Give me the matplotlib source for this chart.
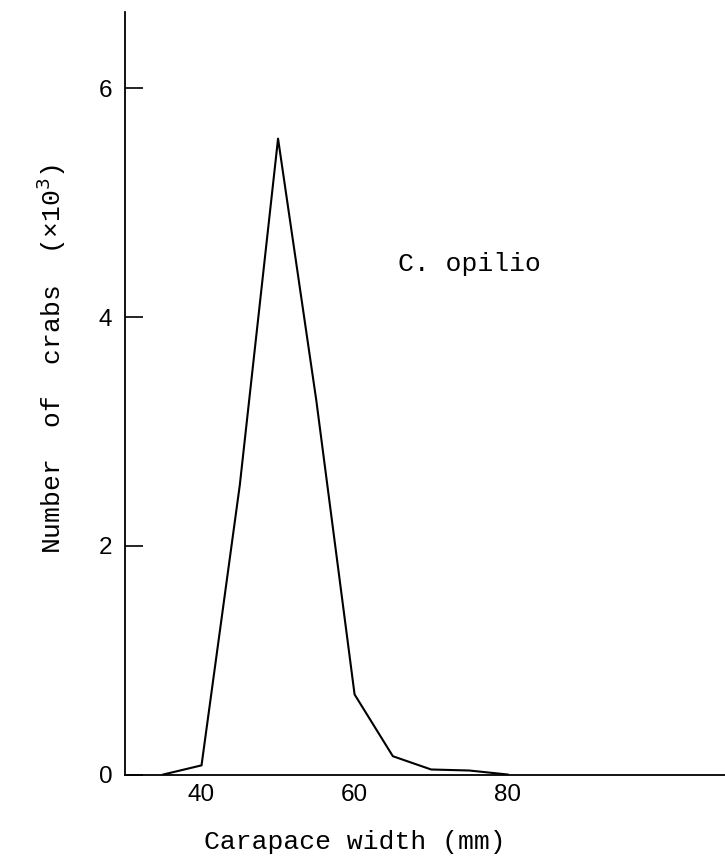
import matplotlib
matplotlib.use("Agg")
from matplotlib import pyplot

# carapace width (mm) and number of crabs (x10^3)
width_mm = [35, 40, 45, 50, 55, 60, 65, 70, 75, 80]
n_crabs = [0.0, 0.08, 2.53, 5.56, 3.27, 0.70, 0.16, 0.044, 0.035, 0.0]

x_ticks = [40, 60, 80]
y_ticks = [0, 2, 4, 6]

mono = "Liberation Mono"
sans = "Liberation Sans"

fig = pyplot.figure(figsize=(7.25, 8.58), dpi=100)
ax = fig.add_axes([0.1724, 0.0973, 0.8276, 0.8891])

ax.plot(width_mm, n_crabs, color="black", linewidth=1.5)

ax.set_xlim(30, 108.4)
ax.set_ylim(0, 6.67)

ax.spines["top"].set_visible(False)
ax.spines["right"].set_visible(False)
ax.spines["left"].set_linewidth(1.3)
ax.spines["bottom"].set_linewidth(1.3)

ax.set_xticks(x_ticks)
ax.set_yticks(y_ticks)
ax.tick_params(axis="x", length=0, pad=7, labelsize=17.5)
ax.tick_params(axis="y", direction="in", length=13, width=1.2, pad=9, labelsize=17.5)
for lbl in ax.get_xticklabels() + ax.get_yticklabels():
    lbl.set_fontfamily(sans)

ax.set_xlabel("Carapace width (mm)", fontfamily=mono, fontsize=19, va="center")
ax.xaxis.set_label_coords(0.383, -0.0885)
ax.set_ylabel("Number  of  crabs  (\u00d710$^3$)", fontfamily=mono, fontsize=19, va="center")
ax.yaxis.set_label_coords(-0.123, 0.545)

ax.text(0.455, 0.66, "C. opilio", transform=ax.transAxes, fontfamily=mono, fontsize=19)

pyplot.savefig("out.png")
